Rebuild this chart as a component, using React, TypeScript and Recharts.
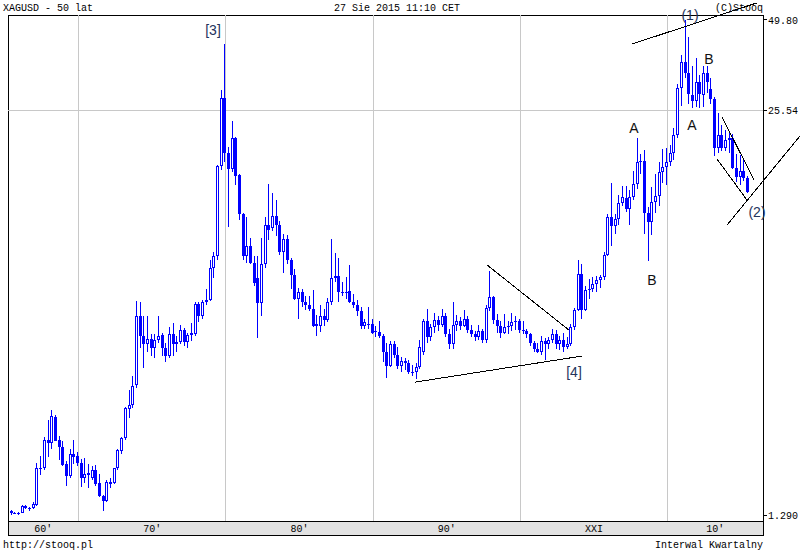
import React from 'react';
import { ComposedChart, Bar, XAxis, YAxis, CartesianGrid, ReferenceLine } from 'recharts';

// quarterly XAGUSD bars, first bar = 1965 Q3
const startYear = 1965;
const startQuarter = 3;

const openPrices = [
  1.33, 1.31, 1.31, 1.31, 1.38, 1.36, 1.36, 1.39, 1.81, 1.83,
  2.25, 2.19, 2.66, 2.24, 2.13, 1.88, 1.72, 2.03, 1.99, 1.90,
  1.69, 1.74, 1.69, 1.80, 1.63, 1.49, 1.43, 1.62, 1.63, 1.83,
  2.07, 2.28, 2.83, 2.90, 3.37, 5.60, 4.83, 4.55, 4.73, 4.43,
  4.70, 4.87, 4.43, 4.17, 4.90, 4.55, 4.63, 5.05, 4.63, 4.87,
  4.90, 6.12, 5.60, 6.22, 6.30, 7.98, 8.70, 16.90, 28.00, 18.70,
  16.60, 20.90, 15.90, 11.90, 8.70, 9.40, 8.30, 7.40, 6.15, 8.20,
  11.00, 10.70, 11.70, 11.00, 9.00, 9.90, 8.50, 7.60, 6.34, 6.70,
  6.20, 6.10, 5.90, 5.20, 5.20, 5.62, 5.44, 6.20, 7.40, 7.55,
  6.70, 6.65, 6.75, 6.20, 6.10, 5.80, 5.20, 5.30, 5.30, 5.00,
  4.97, 4.85, 4.30, 3.88, 4.55, 4.20, 3.88, 4.02, 3.95, 3.72,
  3.70, 3.85, 4.30, 5.40, 4.80, 5.15, 5.45, 5.25, 5.60, 4.90,
  4.55, 5.25, 5.40, 5.20, 5.50, 5.05, 4.90, 4.80, 5.00, 4.70,
  5.95, 6.45, 5.45, 5.20, 4.95, 5.15, 5.20, 5.35, 5.40, 5.05,
  5.00, 4.90, 4.60, 4.40, 4.30, 4.65, 4.55, 4.70, 4.90, 4.55,
  4.70, 4.45, 4.55, 5.15, 5.85, 7.65, 5.85, 6.80, 6.85, 7.10,
  7.30, 7.45, 8.80, 11.60, 10.90, 11.50, 12.90, 13.40, 12.30, 13.50,
  14.80, 17.40, 17.60, 12.00, 11.20, 13.00, 13.60, 16.20, 16.80, 17.50,
  18.70, 21.30, 30.10, 36.60, 33.60, 28.60, 27.30, 31.60, 28.60, 33.60,
  30.00, 27.70, 19.30, 21.30, 19.40, 20.60, 20.90, 16.70, 15.60, 16.40,
  15.50,
];

const highPrices = [
  1.34, 1.32, 1.32, 1.39, 1.39, 1.37, 1.42, 1.89, 2.00, 2.30,
  2.60, 2.80, 2.70, 2.31, 2.22, 1.92, 2.10, 2.25, 2.05, 1.95,
  1.97, 1.88, 1.85, 1.86, 1.75, 1.50, 1.67, 1.69, 1.83, 2.10,
  2.30, 2.86, 3.25, 3.60, 6.25, 6.22, 5.60, 5.60, 4.90, 4.90,
  5.60, 4.95, 4.60, 5.17, 5.33, 4.83, 5.25, 5.12, 4.95, 5.33,
  6.20, 6.20, 6.30, 6.83, 8.50, 9.00, 17.10, 29.80, 41.80, 19.50,
  23.70, 21.00, 16.00, 12.00, 11.60, 10.00, 8.70, 8.70, 9.95, 11.60,
  14.80, 13.90, 13.20, 11.30, 10.30, 10.20, 8.60, 7.90, 6.90, 6.85,
  6.50, 6.50, 6.80, 5.65, 6.10, 5.90, 6.40, 9.87, 8.90, 8.60,
  7.20, 7.45, 8.15, 6.60, 6.30, 6.00, 5.50, 6.00, 5.50, 5.20,
  5.40, 4.90, 4.60, 4.65, 4.65, 4.45, 4.15, 4.10, 4.05, 3.90,
  3.95, 4.70, 5.50, 5.90, 5.30, 5.75, 5.60, 5.90, 5.75, 5.10,
  6.20, 5.65, 5.55, 5.85, 5.60, 5.25, 5.00, 5.25, 5.10, 6.10,
  7.80, 6.50, 5.70, 5.40, 5.70, 5.40, 5.75, 5.60, 5.50, 5.40,
  5.10, 4.95, 4.65, 4.60, 4.85, 4.75, 4.80, 5.10, 5.05, 4.85,
  4.95, 4.80, 5.30, 5.95, 8.45, 8.20, 7.00, 7.35, 7.50, 7.55,
  7.60, 9.00, 11.90, 15.00, 11.90, 13.70, 14.60, 14.60, 14.20, 16.40,
  20.80, 18.50, 19.10, 12.50, 14.50, 16.00, 17.40, 19.20, 19.30, 19.80,
  22.40, 31.00, 38.50, 49.80, 43.90, 35.50, 37.50, 33.10, 35.40, 35.40,
  32.40, 28.20, 25.10, 23.00, 22.10, 21.60, 21.50, 18.50, 18.40, 17.80,
  15.80,
];

const lowPrices = [
  1.29, 1.30, 1.29, 1.31, 1.35, 1.33, 1.35, 1.38, 1.74, 1.80,
  1.98, 2.10, 2.22, 1.94, 1.85, 1.60, 1.70, 1.88, 1.85, 1.59,
  1.63, 1.57, 1.67, 1.60, 1.47, 1.33, 1.42, 1.58, 1.62, 1.80,
  2.02, 2.25, 2.64, 2.85, 3.30, 4.43, 3.82, 4.30, 4.17, 4.11,
  4.60, 4.17, 3.99, 4.10, 4.17, 4.30, 4.55, 4.50, 4.43, 4.65,
  4.85, 5.36, 5.50, 6.10, 6.25, 7.40, 8.50, 16.50, 17.50, 10.80,
  16.20, 14.70, 11.40, 8.50, 8.30, 8.20, 7.00, 4.78, 5.60, 8.00,
  9.80, 10.50, 10.10, 8.80, 7.70, 8.20, 6.85, 6.30, 5.48, 6.00,
  5.85, 5.80, 5.15, 4.85, 4.98, 5.20, 5.35, 6.10, 7.20, 6.20,
  6.50, 6.34, 6.15, 5.95, 5.60, 5.10, 5.09, 5.10, 4.90, 4.80,
  4.75, 4.00, 3.55, 3.85, 4.10, 3.80, 3.72, 3.75, 3.65, 3.60,
  3.52, 3.80, 4.20, 4.60, 4.65, 4.95, 5.00, 5.15, 4.80, 4.40,
  4.40, 5.00, 5.05, 5.15, 4.95, 4.80, 4.65, 4.70, 4.60, 4.60,
  5.80, 5.30, 4.95, 4.75, 4.90, 4.90, 5.00, 5.05, 4.95, 4.90,
  4.75, 4.50, 4.30, 4.25, 4.20, 4.05, 4.40, 4.60, 4.40, 4.35,
  4.30, 4.40, 4.50, 5.05, 5.80, 5.50, 5.80, 6.35, 6.70, 6.70,
  6.90, 7.30, 8.70, 9.40, 10.30, 11.00, 12.60, 12.10, 11.00, 13.20,
  14.30, 16.00, 10.30, 8.40, 10.20, 12.00, 12.60, 15.00, 14.70, 16.90,
  17.70, 20.80, 26.40, 32.50, 26.70, 26.10, 26.20, 26.10, 26.30, 29.00,
  26.70, 18.20, 18.60, 18.90, 19.00, 18.70, 16.60, 15.10, 14.70, 15.20,
  13.85,
];

const closePrices = [
  1.31, 1.31, 1.31, 1.38, 1.36, 1.36, 1.40, 1.82, 1.83, 2.25,
  2.19, 2.68, 2.23, 2.13, 1.86, 1.72, 2.02, 1.98, 1.90, 1.69,
  1.75, 1.76, 1.80, 1.62, 1.48, 1.43, 1.65, 1.65, 1.83, 2.08,
  2.28, 2.84, 2.90, 3.35, 5.60, 4.83, 4.55, 4.73, 4.43, 4.70,
  4.83, 4.43, 4.17, 4.90, 4.55, 4.63, 5.05, 4.63, 4.87, 4.95,
  6.12, 5.60, 6.22, 6.30, 7.98, 8.70, 16.90, 28.00, 18.70, 16.60,
  20.90, 15.80, 11.90, 8.70, 9.40, 8.30, 7.15, 6.15, 8.20, 11.00,
  10.60, 11.70, 11.00, 9.00, 9.90, 8.50, 7.60, 6.34, 6.70, 6.20,
  6.10, 5.90, 5.20, 5.30, 5.62, 5.44, 6.20, 7.40, 7.55, 6.70,
  6.65, 6.70, 6.20, 6.10, 5.80, 5.20, 5.35, 5.25, 4.95, 4.97,
  4.82, 4.30, 3.88, 4.55, 4.20, 3.88, 4.02, 3.95, 3.72, 3.70,
  3.85, 4.45, 5.40, 4.80, 5.15, 5.45, 5.25, 5.60, 4.90, 4.55,
  5.25, 5.40, 5.20, 5.50, 5.05, 4.90, 4.80, 5.00, 4.70, 5.95,
  6.45, 5.45, 5.20, 4.95, 5.15, 5.20, 5.35, 5.40, 5.05, 5.00,
  4.90, 4.60, 4.40, 4.30, 4.65, 4.55, 4.70, 4.90, 4.55, 4.70,
  4.45, 4.55, 5.15, 5.85, 7.65, 5.85, 6.80, 6.85, 7.10, 7.30,
  7.45, 8.80, 11.60, 10.90, 11.50, 12.90, 13.50, 12.30, 13.50, 14.80,
  17.40, 17.60, 12.00, 11.20, 13.00, 13.60, 16.20, 16.80, 17.50, 18.70,
  21.30, 30.10, 36.60, 33.60, 28.90, 27.30, 31.60, 28.90, 33.60, 31.60,
  27.70, 19.30, 21.30, 19.40, 20.60, 20.90, 16.70, 15.60, 16.40, 15.50,
  13.95,
];

const decadeTicks = [1970, 1980, 1990, 2000, 2010];
const decadeLabels = ["60′", "70′", "80′", "90′", "XXI", "10′"];
const priceTicks = [1.29, 25.54, 49.8];
const gridPrice = 25.54;

const xDomain: [number, number] = [1965.21, 2016.47];
const yDomain: [number, number] = [1.2346, 51.67];

// hand-drawn trend lines, [year, price] pairs
const trendLines = [
  [[2007.58, 41.7], [2016.06, 56.5]],
  [[2014.03, 10.97], [2018.98, 21.16]],
  [[2013.69, 24.34], [2015.86, 15.29]],
  [[2013.35, 17.85], [2015.38, 13.19]],
  [[1997.73, 8.17], [2003.3, 5.05]],
  [[1992.84, 3.44], [2004.18, 4.17]],
];

const waveLabels = [
  { text: '[3]', x: 213, y: 30, numbered: true },
  { text: '(1)', x: 690, y: 15, numbered: true },
  { text: 'B', x: 709, y: 59, numbered: false },
  { text: 'A', x: 692, y: 125, numbered: false },
  { text: 'A', x: 634, y: 128, numbered: false },
  { text: 'B', x: 652, y: 280, numbered: false },
  { text: '[4]', x: 574, y: 372, numbered: true },
  { text: '(2)', x: 757, y: 212, numbered: true },
];

const BLUE = '#0000ff';
const MONO = '"Liberation Mono", "DejaVu Sans Mono", monospace';

const labelTicks = [
  (xDomain[0] + decadeTicks[0]) / 2,
  ...decadeTicks.slice(0, -1).map((d) => d + 5),
  (decadeTicks[decadeTicks.length - 1] + xDomain[1]) / 2,
];

const rows = openPrices.map((o, i) => ({
  t: startYear + (startQuarter - 1) / 4 + i / 4 - 0.05,
  o,
  h: highPrices[i],
  l: lowPrices[i],
  c: closePrices[i],
  range: [lowPrices[i], highPrices[i]],
}));

const Candle = (props: any) => {
  const { x, y, width, height, payload } = props;
  if (x == null || y == null || !payload) return null;
  const { o, h, l, c } = payload;
  const yTop = Math.min(y, y + height);
  const yBot = Math.max(y, y + height);
  const lh = Math.log(h);
  const span = lh - Math.log(l) || 1;
  const yAt = (v: number) => yTop + ((lh - Math.log(v)) / span) * (yBot - yTop);
  const cx = Math.round(x + width / 2 - 0.5);
  const top = Math.round(yAt(Math.max(o, c)));
  const bot = Math.round(yAt(Math.min(o, c)));
  const bodyH = Math.max(1, bot - top);
  const up = c >= o;
  return (
    <g>
      <rect x={cx} y={Math.round(yTop)} width={1} height={Math.max(1, Math.round(yBot) - Math.round(yTop))} fill={BLUE} />
      <rect x={cx - 1} y={top} width={3} height={bodyH} fill={BLUE} />
      {up && bodyH > 2 && <rect x={cx} y={top + 1} width={1} height={bodyH - 2} fill="#fff" />}
    </g>
  );
};

const DecadeTick = (props: any) => {
  const { x, payload } = props;
  const idx = labelTicks.indexOf(payload.value);
  return (
    <text x={x} y={532} textAnchor="middle" fontFamily={MONO} fontSize={10} fill="#000">
      {decadeLabels[idx]}
    </text>
  );
};

export default function App() {
  return (
    <div style={{ position: 'fixed', left: 0, top: 0, width: 800, height: 550, background: '#fff', overflow: 'hidden' }}>
      <style>{`
        .recharts-cartesian-grid line, .recharts-cartesian-axis-tick-line, .recharts-reference-line line {
          shape-rendering: crispEdges;
        }
      `}</style>
      <div style={{ position: 'absolute', left: 8, top: 15, width: 756, height: 521, border: '1px solid #000', boxSizing: 'border-box' }} />
      <div style={{ position: 'absolute', left: 8, top: 521, width: 756, height: 15, background: '#e2e2e2', border: '1px solid #000', boxSizing: 'border-box' }} />
      <div style={{ position: 'absolute', left: 0, top: 0 }}>
        <ComposedChart width={800} height={550} data={rows} margin={{ top: 15, right: 0, bottom: 15, left: 8 }}>
          <CartesianGrid xAxisId="bot" yAxisId="p" stroke="#c8c8c8" horizontalValues={[gridPrice]} verticalValues={decadeTicks} />
          <XAxis xAxisId="top" orientation="top" type="number" dataKey="t" domain={xDomain} allowDataOverflow ticks={decadeTicks} interval={0}
            mirror height={0} axisLine={false} tickSize={5} tickLine={{ stroke: '#000' }} tickFormatter={() => ''} />
          <XAxis xAxisId="bot" orientation="bottom" type="number" dataKey="t" domain={xDomain} allowDataOverflow ticks={decadeTicks} interval={0}
            mirror height={0} axisLine={false} tickSize={6} tickLine={{ stroke: '#000' }} tickFormatter={() => ''} />
          <XAxis xAxisId="lbl" orientation="bottom" type="number" dataKey="t" domain={xDomain} allowDataOverflow ticks={labelTicks} interval={0}
            height={14} axisLine={false} tickLine={false} tick={<DecadeTick />} />
          <YAxis yAxisId="p" orientation="right" type="number" scale="log" domain={yDomain} allowDataOverflow ticks={priceTicks} interval={0}
            width={37} axisLine={false} tickSize={4} tickMargin={1} tickLine={{ stroke: '#000' }}
            tick={{ fontFamily: MONO, fontSize: 10, fill: '#000' }} tickFormatter={(v: number) => v.toPrecision(4)} />
          <Bar xAxisId="bot" yAxisId="p" dataKey="range" barSize={3} shape={<Candle />} isAnimationActive={false} />
          {trendLines.map((seg, i) => (
            <ReferenceLine key={i} xAxisId="bot" yAxisId="p" ifOverflow="visible" stroke="#000" strokeWidth={1}
              segment={[{ x: seg[0][0], y: seg[0][1] }, { x: seg[1][0], y: seg[1][1] }]} />
          ))}
        </ComposedChart>
      </div>
      <svg width={800} height={550} style={{ position: 'absolute', left: 0, top: 0, pointerEvents: 'none' }}>
        <g fontFamily={MONO} fontSize={10} fill="#000">
          <text x={3} y={11}>XAGUSD - 50 lat</text>
          <text x={397} y={11} textAnchor="middle">27 Sie 2015 11:10 CET</text>
          <text x={763} y={11} textAnchor="end">(C)Stooq</text>
          <text x={3} y={548}>http://stooq.pl</text>
          <text x={763} y={548} textAnchor="end">Interwal Kwartalny</text>
        </g>
        <g fontFamily='"Liberation Sans", Arial, sans-serif' fontSize={14}>
          {waveLabels.map((w, i) => (
            <text key={i} x={w.x} y={w.y + 5} textAnchor="middle" fill={w.numbered ? '#24345c' : '#111'}>{w.text}</text>
          ))}
        </g>
      </svg>
    </div>
  );
}
